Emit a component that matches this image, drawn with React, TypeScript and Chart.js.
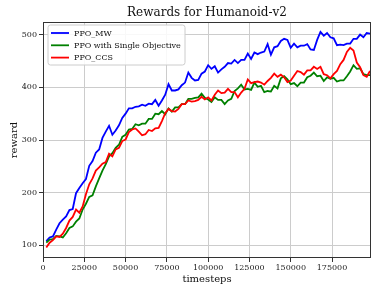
import React, { useEffect, useRef } from "react";
import { Chart, registerables } from "chart.js";

Chart.register(...registerables);

const TITLE = "Rewards for Humanoid-v2";
const X_LABEL = "timesteps";
const Y_LABEL = "reward";
const SERIES_NAMES = ["PPO_MW", "PPO with Single Objective", "PPO_CCS"];
const SERIES_COLORS = ["#0000ff", "#008000", "#ff0000"];
const X_TICKS = [0, 25000, 50000, 75000, 100000, 125000, 150000, 175000];
const Y_TICKS = [100, 200, 300, 400, 500];

const timesteps = [
  2000, 4000, 6000, 8000, 10000, 12000, 14000, 16000, 18000, 20000,
  22000, 24000, 26000, 28000, 30000, 32000, 34000, 36000, 38000, 40000,
  42000, 44000, 46000, 48000, 50000, 52000, 54000, 56000, 58000, 60000,
  62000, 64000, 66000, 68000, 70000, 72000, 74000, 76000, 78000, 80000,
  82000, 84000, 86000, 88000, 90000, 92000, 94000, 96000, 98000, 100000,
  102000, 104000, 106000, 108000, 110000, 112000, 114000, 116000, 118000, 120000,
  122000, 124000, 126000, 128000, 130000, 132000, 134000, 136000, 138000, 140000,
  142000, 144000, 146000, 148000, 150000, 152000, 154000, 156000, 158000, 160000,
  162000, 164000, 166000, 168000, 170000, 172000, 174000, 176000, 178000, 180000,
  182000, 184000, 186000, 188000, 190000, 192000, 194000, 196000, 198000,
];

const ppoMW = [
  108, 115, 117, 130, 142, 149, 155, 167, 169, 199,
  209, 218, 226, 251, 260, 276, 282, 304, 316, 327,
  310, 318, 328, 342, 350, 360, 360, 363, 364, 367,
  365, 369, 368, 376, 365, 375, 386, 406, 394, 394,
  396, 404, 409, 428, 418, 413, 414, 426, 430, 442,
  435, 440, 428, 434, 439, 446, 445, 452, 446, 452,
  452, 464, 454, 466, 463, 466, 468, 482, 462, 476,
  478, 488, 492, 490, 475, 483, 476, 479, 479, 482,
  472, 471, 490, 505, 498, 503, 495, 493, 480, 481,
  480, 483, 483, 492, 492, 500, 495, 503, 502,
];

const ppoSingle = [
  105, 111, 112, 118, 117, 115, 123, 133, 136, 145,
  151, 168, 179, 192, 195, 212, 227, 242, 254, 269,
  275, 285, 291, 306, 310, 320, 321, 330, 328, 331,
  331, 340, 340, 350, 349, 355, 349, 360, 354, 362,
  362, 368, 368, 378, 378, 380, 381, 388, 380, 377,
  372, 381, 376, 376, 368, 375, 378, 393, 398, 405,
  396, 397, 395, 409, 401, 403, 391, 393, 392, 403,
  398, 417, 421, 415, 406, 408, 402, 409, 409, 419,
  422, 428, 421, 422, 412, 419, 416, 418, 411, 413,
  413, 421, 430, 442, 435, 436, 425, 423, 423,
];

const ppoCCS = [
  96, 105, 110, 117, 116, 122, 133, 147, 154, 168,
  162, 174, 197, 216, 227, 242, 248, 255, 258, 274,
  269, 282, 285, 298, 301, 315, 320, 322, 316, 309,
  311, 319, 317, 322, 323, 336, 351, 359, 355, 354,
  359, 368, 368, 375, 373, 374, 376, 382, 377, 381,
  375, 386, 394, 389, 390, 397, 391, 391, 381, 390,
  397, 415, 408, 410, 411, 409, 405, 412, 418, 426,
  420, 424, 419, 410, 413, 422, 431, 429, 424, 432,
  432, 439, 435, 439, 425, 423, 417, 425, 431, 444,
  452, 467, 475, 470, 447, 438, 423, 420, 431,
];

const SERIES = [ppoMW, ppoSingle, ppoCCS];

const FONT = "'DejaVu Serif', serif";

const frameAndLegend = {
  id: "frameAndLegend",
  afterDraw(chart: any) {
    const { ctx, chartArea } = chart;
    const { left, right, top, bottom } = chartArea;
    ctx.save();
    ctx.strokeStyle = "#333333";
    ctx.lineWidth = 1;
    ctx.strokeRect(Math.round(left) + 0.5, Math.round(top) + 0.5, Math.round(right - left) - 1, Math.round(bottom - top) - 1);

    ctx.fillStyle = "#111111";
    ctx.font = `12px ${FONT}`;
    ctx.textAlign = "center";
    ctx.textBaseline = "middle";
    ctx.fillText(TITLE, (left + right) / 2, 12.5);

    const bx = left + 5;
    const by = top + 3;
    const bw = 137;
    const bh = 40;
    const r = 2.5;
    ctx.beginPath();
    ctx.moveTo(bx + r, by);
    ctx.lineTo(bx + bw - r, by);
    ctx.quadraticCurveTo(bx + bw, by, bx + bw, by + r);
    ctx.lineTo(bx + bw, by + bh - r);
    ctx.quadraticCurveTo(bx + bw, by + bh, bx + bw - r, by + bh);
    ctx.lineTo(bx + r, by + bh);
    ctx.quadraticCurveTo(bx, by + bh, bx, by + bh - r);
    ctx.lineTo(bx, by + r);
    ctx.quadraticCurveTo(bx, by, bx + r, by);
    ctx.closePath();
    ctx.fillStyle = "rgba(255,255,255,0.85)";
    ctx.fill();
    ctx.strokeStyle = "#cccccc";
    ctx.lineWidth = 1;
    ctx.stroke();

    ctx.font = `8px ${FONT}`;
    ctx.textAlign = "left";
    ctx.textBaseline = "middle";
    chart.data.datasets.forEach((ds: any, i: number) => {
      const y = by + 8 + i * 12.3;
      ctx.strokeStyle = ds.borderColor;
      ctx.lineWidth = 1.8;
      ctx.beginPath();
      ctx.moveTo(bx + 3, y);
      ctx.lineTo(bx + 21, y);
      ctx.stroke();
      ctx.fillStyle = "#111111";
      ctx.fillText(ds.label, bx + 26, y + 0.5);
    });
    ctx.restore();
  },
};

export default function App() {
  const canvasRef = useRef<HTMLCanvasElement | null>(null);

  useEffect(() => {
    if (!canvasRef.current) return;
    const datasets = SERIES.map((vals, i) => ({
      label: SERIES_NAMES[i],
      data: timesteps.map((t, j) => ({ x: t, y: vals[j] })),
      borderColor: SERIES_COLORS[i],
      backgroundColor: SERIES_COLORS[i],
      borderWidth: 1.8,
      pointRadius: 0,
      tension: 0,
      fill: false,
      order: i === 0 ? 2 : i === 1 ? 1 : 0,
    }));

    const chart = new Chart(canvasRef.current, {
      type: "line",
      data: { datasets },
      options: {
        animation: false,
        responsive: false,
        maintainAspectRatio: false,
        layout: { padding: { top: 22, right: 11, left: 0, bottom: 0 } },
        plugins: {
          legend: { display: false },
          title: { display: false },
          tooltip: { enabled: false },
        },
        scales: {
          x: {
            type: "linear",
            min: 0,
            max: 198600,
            afterFit: (s: any) => {
              s.height = 36;
            },
            afterBuildTicks: (s: any) => {
              s.ticks = X_TICKS.map((v) => ({ value: v }));
            },
            border: { display: false },
            grid: {
              color: "#cccccc",
              lineWidth: 1,
              drawTicks: true,
              tickLength: 4,
              tickColor: "#333333",
            },
            ticks: {
              color: "#222222",
              font: { family: FONT, size: 8 },
              padding: 1,
              maxRotation: 0,
              autoSkip: false,
              callback: (v: any) => String(v),
            },
            title: {
              display: true,
              text: X_LABEL,
              color: "#111111",
              font: { family: FONT, size: 10 },
              padding: { top: 0, bottom: 9 },
            },
          },
          y: {
            type: "linear",
            min: 76,
            max: 524,
            afterFit: (s: any) => {
              s.width = 43;
            },
            afterBuildTicks: (s: any) => {
              s.ticks = Y_TICKS.map((v) => ({ value: v }));
            },
            border: { display: false },
            grid: {
              color: "#cccccc",
              lineWidth: 1,
              drawTicks: true,
              tickLength: 4,
              tickColor: "#333333",
            },
            ticks: {
              color: "#222222",
              font: { family: FONT, size: 8 },
              padding: 2,
              autoSkip: false,
              callback: (v: any) => String(v),
            },
            title: {
              display: true,
              text: Y_LABEL,
              color: "#111111",
              font: { family: FONT, size: 10 },
              padding: { top: 8, bottom: 0 },
            },
          },
        },
      },
      plugins: [frameAndLegend],
    });
    return () => chart.destroy();
  }, []);

  return (
    <div style={{ position: "fixed", left: 0, top: 0, width: 382, height: 294, background: "#ffffff" }}>
      <canvas ref={canvasRef} width={382} height={294} style={{ width: 382, height: 294, display: "block" }} />
    </div>
  );
}
